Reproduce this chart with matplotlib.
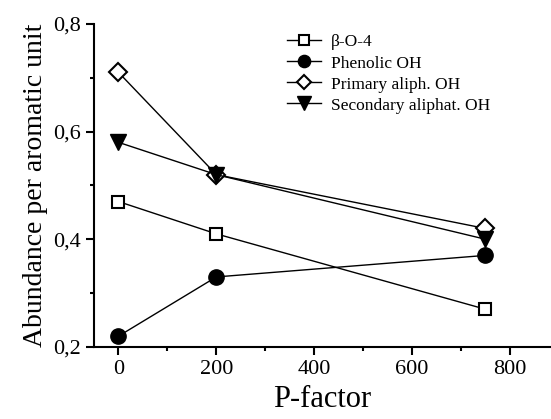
import matplotlib.pyplot as plt
from matplotlib.ticker import MultipleLocator, FuncFormatter

plt.rcParams['font.family'] = ['Liberation Serif', 'DejaVu Serif']

# data
p_factor = [0, 200, 750]
beta_o4 = [0.47, 0.41, 0.27]
phenolic = [0.22, 0.33, 0.37]
primary = [0.71, 0.52, 0.42]
secondary = [0.58, 0.52, 0.40]

fig = plt.figure(figsize=(5.51, 4.19), dpi=100)
ax = fig.add_axes([0.1706, 0.172, 0.8294, 0.771])

ax.plot(p_factor, beta_o4, 's-', color='black', mfc='white', mec='black',
        ms=9, mew=1.5, lw=1, label="β-O-4")
ax.plot(p_factor, phenolic, 'o-', color='black', mfc='black', mec='black',
        ms=11, lw=1, label="Phenolic OH")
ax.plot(p_factor, primary, 'D-', color='black', mfc='white', mec='black',
        ms=9, mew=1.5, lw=1, label="Primary aliph. OH")
ax.plot(p_factor, secondary, 'v-', color='black', mfc='black', mec='black',
        ms=12, lw=1, label="Secondary aliphat. OH")

ax.set_xlim(-50, 884)
ax.set_ylim(0.2, 0.8)
ax.xaxis.set_major_locator(MultipleLocator(200))
ax.xaxis.set_minor_locator(MultipleLocator(100))
ax.yaxis.set_major_locator(MultipleLocator(0.2))
ax.yaxis.set_minor_locator(MultipleLocator(0.1))
ax.yaxis.set_major_formatter(FuncFormatter(lambda v, p: f"{v:.1f}".replace('.', ',')))

ax.spines['top'].set_visible(False)
ax.spines['right'].set_visible(False)
for s in ('left', 'bottom'):
    ax.spines[s].set_linewidth(1.5)
ax.tick_params(which='major', direction='out', length=6, width=1.5, labelsize=16)
ax.tick_params(which='minor', direction='out', length=3, width=1.5)

ax.set_xlabel("P-factor", fontsize=22)
ax.set_ylabel("Abundance per aromatic unit", fontsize=20)

leg = ax.legend(loc='upper left', bbox_to_anchor=(0.3875, 1.016), frameon=False,
                fontsize=12.5, handlelength=2.0, handletextpad=0.55,
                labelspacing=0.28, markerscale=0.8)

fig.savefig("out.png", dpi=100)
